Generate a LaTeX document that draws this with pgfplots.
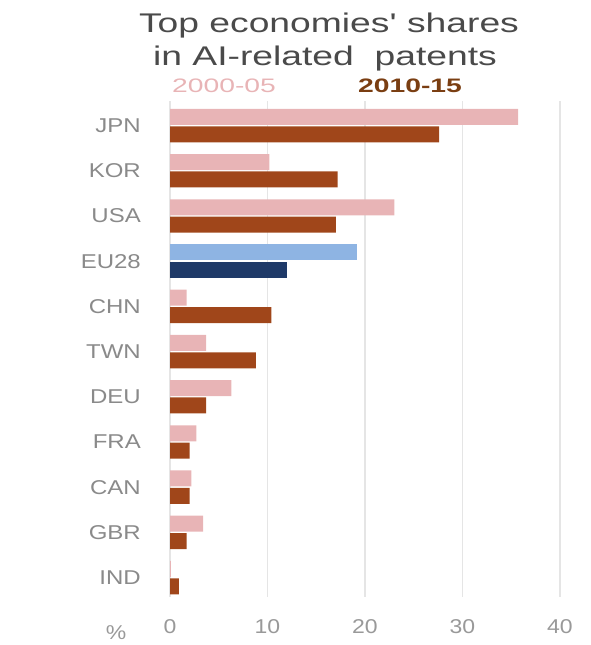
\documentclass[border=0pt]{standalone}
\usepackage{pgfplots}
\pgfplotsset{compat=1.18}
\usepackage{fontspec}
\setmainfont{Liberation Sans}
\newfontfamily\titlefont[FakeStretch=1.38]{Liberation Sans}
\newfontfamily\legfont[FakeStretch=1.45]{Liberation Sans}
\newfontfamily\labfont[FakeStretch=1.2]{Liberation Sans}
\newfontfamily\tickfont[FakeStretch=1.15]{Liberation Sans}
\definecolor{pinkbar}{HTML}{E8B4B6}
\definecolor{brownbar}{HTML}{A0461A}
\definecolor{lightblue}{HTML}{8EB4E3}
\definecolor{navy}{HTML}{1F3A68}
\definecolor{titlegray}{HTML}{4A4A4A}
\definecolor{labgray}{HTML}{8A8A8A}
\definecolor{tickgray}{HTML}{999999}
\definecolor{legbrown}{HTML}{7A3E12}
\begin{document}
\begin{tikzpicture}[x=1pt,y=1pt]
\begin{axis}[
  at={(170pt,48pt)}, anchor=south west,
  scale only axis,
  width=409.5pt, height=496.3pt,
  xmin=0, xmax=42,
  ymin=-0.43, ymax=10.55,
  xtick={0,10,20,30,40},
  xticklabels={0,10,20,30,40},
  ytick={0,1,2,3,4,5,6,7,8,9,10},
  yticklabels={IND,GBR,CAN,FRA,DEU,TWN,CHN,EU28,USA,KOR,JPN},
  xmajorgrids,
  grid style={draw=black!10, line width=1.5pt},
  axis line style={draw=none},
  major tick length=0pt,
  xticklabel style={font=\tickfont\fontsize{20}{22}\selectfont, text=tickgray, anchor=center, inner sep=0pt, yshift=-30pt},
  yticklabel style={font=\labfont\fontsize{20}{22}\selectfont, text=labgray, anchor=east, inner sep=0pt, xshift=-29pt},
  bar width=16pt,
  clip=false,
]
\addplot[xbar, bar shift=8.7pt, fill=pinkbar, draw=none] coordinates {
 (35.7,10) (10.2,9) (23.0,8) (1.7,6) (3.7,5) (6.3,4) (2.7,3) (2.2,2) (3.4,1) (0.1,0)};
\addplot[xbar, bar shift=-8.7pt, fill=brownbar, draw=none] coordinates {
 (27.6,10) (17.2,9) (17.0,8) (10.4,6) (8.8,5) (3.7,4) (2.0,3) (2.0,2) (1.7,1) (0.9,0)};
\addplot[xbar, bar shift=8.7pt, fill=lightblue, draw=none] coordinates {(19.2,7)};
\addplot[xbar, bar shift=-8.7pt, fill=navy, draw=none] coordinates {(12.0,7)};
\end{axis}
\node[anchor=base, text=titlegray, font=\titlefont\fontsize{27}{30}\selectfont] at (329,612) {Top economies' shares};
\node[anchor=base, text=titlegray, font=\titlefont\fontsize{27}{30}\selectfont] at (325,579) {in AI-related\ \ patents};
\node[anchor=base, text=pinkbar, font=\legfont\fontsize{19.5}{22}\selectfont] at (224,552) {2000-05};
\node[anchor=base, text=legbrown, font=\legfont\fontsize{19.5}{22}\selectfont\bfseries] at (410,552) {2010-15};
\node[anchor=center, text=tickgray, font=\tickfont\fontsize{20}{22}\selectfont] at (116,12) {\%};
\pgfresetboundingbox
\path[use as bounding box] (0,0) rectangle (590,645);
\end{tikzpicture}
\end{document}
